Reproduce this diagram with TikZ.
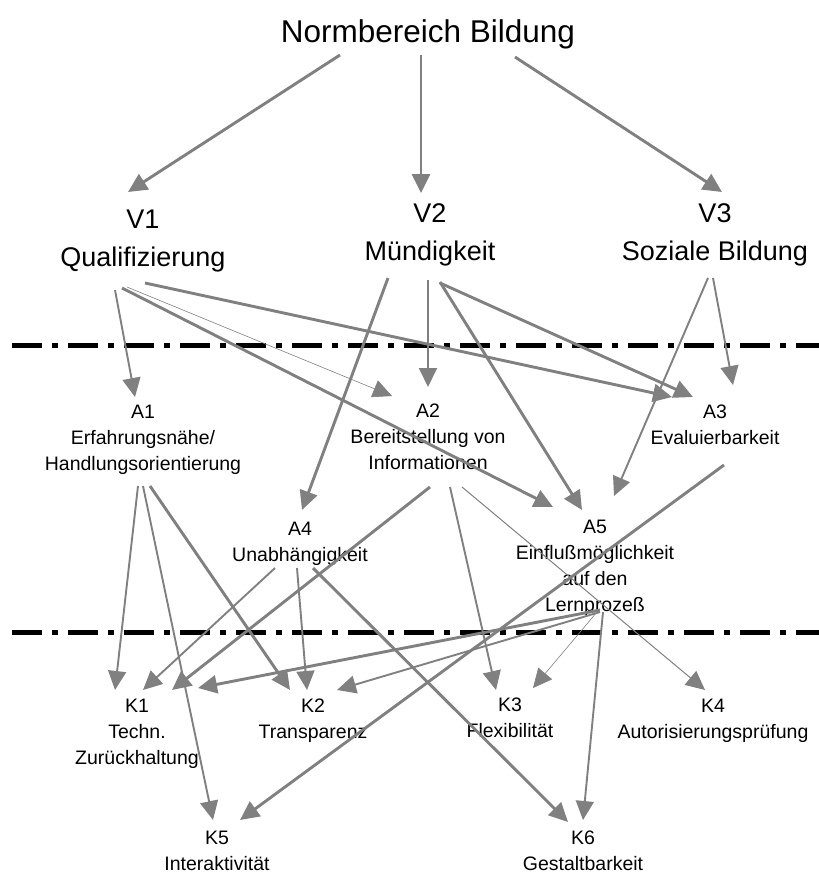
\documentclass[tikz,border=0pt]{standalone}
\usepackage{fontspec}
\setmainfont{Liberation Sans}
\usetikzlibrary{arrows.meta,calc}
\definecolor{edgegray}{RGB}{128,128,128}
\begin{document}
\begin{tikzpicture}[x=1pt,y=-1pt,
  title/.style={inner sep=0pt, font=\fontsize{31.5}{36}\selectfont},
  vlbl/.style={inner sep=0pt, align=center, font=\fontsize{27}{37.5}\selectfont},
  lbl/.style={inner sep=0pt, align=center, font=\fontsize{19.5}{26}\selectfont},
  link/.style={draw=edgegray, -{Triangle[length=19pt,width=18pt]}},
  heavy/.style={link, line width=2.9pt},
  medium/.style={link, line width=1.9pt},
  light/.style={link, line width=1pt},
  faint/.style={link, line width=0.6pt},
  divider/.style={line width=5pt, dash pattern=on 30pt off 10pt on 6pt off 10pt}
]
\useasboundingbox (0,0) rectangle (819,876);

% level labels
\node[title] (N) at (428,34) {Normbereich Bildung};

\node[vlbl] (V1) at (143,241) {V1\\Qualifizierung};
\node[vlbl] (V2) at (430,235) {V2\\Mündigkeit};
\node[vlbl] (V3) at (715,235) {V3\\Soziale Bildung};

\node[lbl] (A1) at (143,440) {A1\\Erfahrungsnähe/\\Handlungsorientierung};
\node[lbl] (A2) at (428,437) {A2\\Bereitstellung von\\Informationen};
\node[lbl] (A3) at (715,425) {A3\\Evaluierbarkeit};
\node[lbl] (A4) at (300,544) {A4\\Unabhängigkeit};
\node[lbl] (A5) at (595,568) {A5\\Einflußmöglichkeit\\auf den\\Lernprozeß};

\node[lbl] (K1) at (137,734) {K1\\Techn.\\Zurückhaltung};
\node[lbl] (K2) at (313,721) {K2\\Transparenz};
\node[lbl] (K3) at (510,718) {K3\\Flexibilität};
\node[lbl] (K4) at (713,721) {K4\\Autorisierungsprüfung};
\node[lbl] (K5) at (217,851) {K5\\Interaktivität};
\node[lbl] (K6) at (583,851) {K6\\Gestaltbarkeit};

% separators between the levels
\coordinate (s1a) at (12,345);  \coordinate (s1b) at (819,345);
\coordinate (s2a) at (12,632);  \coordinate (s2b) at (819,632);
\draw[divider] (s1a) -- (s1b);
\draw[divider] (s2a) -- (s2b);

% norm area -> values
\draw[heavy]  ($(N)+(-88,21)$) -- ($(V1)+(-15,-49)$);
\draw[heavy]  ($(N)+(-7,21)$)  -- ($(V2)+(-9,-42)$);
\draw[heavy]  ($(N)+(87,23)$)  -- ($(V3)+(7,-43)$);

% values -> requirements
\draw[medium] ($(V1)+(-28,49)$) -- ($(A1)+(-8,-43)$);
\draw[faint]  ($(V1)+(-16,46)$) -- ($(A2)+(-36,-41)$);
\draw[heavy]  ($(V1)+(-21,47)$) -- ($(A5)+(-42,-61)$);
\draw[heavy]  ($(V1)+(2,42)$)   -- ($(A3)+(-43,-28)$);
\draw[heavy]  ($(V2)+(-42,43)$) -- ($(A4)+(2,-34)$);
\draw[medium] ($(V2)+(-2,45)$)  -- ($(A2)+(0,-50)$);
\draw[heavy]  ($(V2)+(10,47)$)  -- ($(A5)+(-13,-58)$);
\draw[heavy]  ($(V2)+(10,48)$)  -- ($(A3)+(-22,-28)$);
\draw[medium] ($(V3)+(-2,43)$)  -- ($(A3)+(18,-40)$);
\draw[medium] ($(V3)+(-7,43)$)  -- ($(A5)+(19,-72)$);

% requirements -> criteria
\draw[medium] ($(A1)+(-5,46)$)  -- ($(K1)+(-22,-44)$);
\draw[medium] ($(A1)+(0,46)$)   -- ($(K5)+(-4,-31)$);
\draw[heavy]  ($(A1)+(7,46)$)   -- ($(K2)+(-23,-31)$);
\draw[heavy]  ($(A2)+(2,50)$)   -- ($(K1)+(35,-44)$);
\draw[medium] ($(A2)+(22,50)$)  -- ($(K3)+(-14,-28)$);
\draw[light]  ($(A2)+(34,50)$)  -- ($(K4)+(-8,-31)$);
\draw[heavy]  ($(A3)+(9,40)$)   -- ($(K5)+(23,-31)$);
\draw[medium] ($(A4)+(-25,24)$) -- ($(K1)+(6,-44)$);
\draw[medium] ($(A4)+(-3,24)$)  -- ($(K2)+(-6,-31)$);
\draw[heavy]  ($(A4)+(13,24)$)  -- ($(K6)+(-15,-29)$);
\draw[heavy]  ($(A5)+(5,42)$)   -- ($(K1)+(61,-46)$);
\draw[medium] ($(A5)+(5,44)$)   -- ($(K2)+(24,-31)$);
\draw[faint]  ($(A5)+(2,44)$)   -- ($(K3)+(23,-30)$);
\draw[medium] ($(A5)+(8,44)$)   -- ($(K6)+(0,-31)$);
\end{tikzpicture}
\end{document}
